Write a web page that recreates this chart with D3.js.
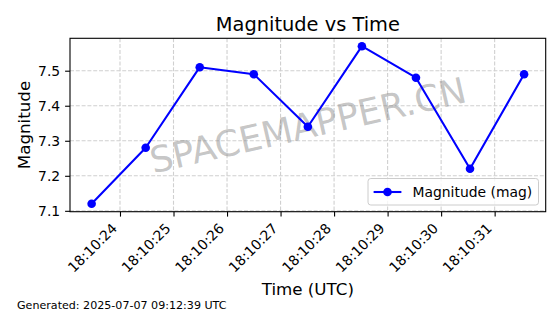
<!DOCTYPE html>
<html>
<head>
<meta charset="utf-8">
<script src="https://cdn.jsdelivr.net/npm/d3@7"></script>
<style>
  body { margin: 0; background: #fff; }
  svg { display: block; font-family: "DejaVu Sans", sans-serif; }
</style>
</head>
<body>
<svg id="chart" width="560" height="314"></svg>
<script>
// data
var times = ["18:10:23.470", "18:10:24.480", "18:10:25.490", "18:10:26.500", "18:10:27.510",
             "18:10:28.520", "18:10:29.530", "18:10:30.540", "18:10:31.550"];
var magnitudes = [7.12, 7.28, 7.51, 7.49, 7.34, 7.57, 7.48, 7.22, 7.49];
var xTickLabels = ["18:10:24", "18:10:25", "18:10:26", "18:10:27", "18:10:28", "18:10:29", "18:10:30", "18:10:31"];
var yTickLabels = [7.1, 7.2, 7.3, 7.4, 7.5];

var parseT = d3.utcParse("%Y-%m-%d %H:%M:%S.%L"),
    parseTick = d3.utcParse("%Y-%m-%d %H:%M:%S"),
    day = "2025-07-07 ";

var ds = times.map((t, i) => ({ t: parseT(day + t), m: magnitudes[i] }));

let svg = d3.select("#chart"),
    cs = {
        left: 70, right: 545.7, top: 38.3, bottom: 211.7,
        blue: "#0000ff",
        tickLen: 4.9
    };

// matplotlib-ish 5% margins
let tExt = d3.extent(ds, d => +d.t), mExt = d3.extent(ds, d => d.m);
let tPad = (tExt[1] - tExt[0]) * 0.05, mPad = (mExt[1] - mExt[0]) * 0.05;

cs.x = d3.scaleUtc()
    .domain([new Date(tExt[0] - tPad), new Date(tExt[1] + tPad)])
    .range([cs.left, cs.right]);
cs.y = d3.scaleLinear()
    .domain([mExt[0] - mPad, mExt[1] + mPad])
    .range([cs.bottom, cs.top]);

let xTicks = xTickLabels.map(s => parseTick(day + s));

// grid
let grid = svg.append("g").attr("stroke", "#d0d0d0").attr("stroke-width", 1.1).attr("stroke-dasharray", "4,1.8");
grid.selectAll(".gx").data(xTicks).enter().append("line")
    .attr("x1", d => cs.x(d)).attr("x2", d => cs.x(d))
    .attr("y1", cs.top).attr("y2", cs.bottom);
grid.selectAll(".gy").data(yTickLabels).enter().append("line")
    .attr("y1", d => cs.y(d)).attr("y2", d => cs.y(d))
    .attr("x1", cs.left).attr("x2", cs.right);

// watermark
svg.append("text")
    .attr("transform", "translate(" + ((cs.left + cs.right) / 2) + "," + ((cs.top + cs.bottom) / 2) + ") rotate(-12.8)")
    .attr("text-anchor", "middle")
    .attr("dy", "0.36em")
    .attr("font-size", 36)
    .attr("fill", "#808080")
    .attr("fill-opacity", 0.45)
    .text("SPACEMAPPER.CN");

// line + markers
let line = d3.line().x(d => cs.x(d.t)).y(d => cs.y(d.m));
svg.append("path").datum(ds)
    .attr("d", line)
    .attr("fill", "none")
    .attr("stroke", cs.blue)
    .attr("stroke-width", 2.08)
    .attr("stroke-linejoin", "round");
svg.selectAll("circle.pt").data(ds).enter().append("circle")
    .attr("class", "pt")
    .attr("cx", d => cs.x(d.t)).attr("cy", d => cs.y(d.m))
    .attr("r", 4.3)
    .attr("fill", cs.blue);

// axes
let xAxis = d3.axisBottom(cs.x).tickValues(xTicks).tickFormat(d3.utcFormat("%H:%M:%S"))
    .tickSize(cs.tickLen).tickSizeOuter(0);
let gx = svg.append("g").attr("transform", "translate(0," + cs.bottom + ")").call(xAxis);
gx.selectAll("text")
    .attr("x", 0).attr("y", 0).attr("dy", 0)
    .attr("text-anchor", "end")
    .attr("transform", "translate(-2.5,17.5) rotate(-45)");

let yAxis = d3.axisLeft(cs.y).tickValues(yTickLabels).tickFormat(d3.format(".1f"))
    .tickSize(cs.tickLen).tickPadding(4.9).tickSizeOuter(0);
let gy = svg.append("g").attr("transform", "translate(" + cs.left + ",0)").call(yAxis);

[gx, gy].forEach(g => {
    g.select(".domain").remove();
    g.attr("font-family", null).attr("font-size", 13.9);
    g.selectAll(".tick line").attr("stroke", "#000").attr("stroke-width", 1.1);
    g.selectAll(".tick text").attr("fill", "#000");
});

// frame
svg.append("rect")
    .attr("x", cs.left).attr("y", cs.top)
    .attr("width", cs.right - cs.left).attr("height", cs.bottom - cs.top)
    .attr("fill", "none").attr("stroke", "#000").attr("stroke-width", 1.1);

// legend
let lg = svg.append("g");
lg.append("rect")
    .attr("x", 368).attr("y", 178.5).attr("width", 170.5).attr("height", 26.5)
    .attr("rx", 2.8)
    .attr("fill", "#fff").attr("fill-opacity", 0.8)
    .attr("stroke", "#cccccc").attr("stroke-width", 1);
lg.append("line")
    .attr("x1", 373.6).attr("x2", 401.4).attr("y1", 192).attr("y2", 192)
    .attr("stroke", cs.blue).attr("stroke-width", 2.08);
lg.append("circle").attr("cx", 387.5).attr("cy", 192).attr("r", 4.3).attr("fill", cs.blue);
lg.append("text").attr("x", 412.5).attr("y", 197).attr("font-size", 13.9).attr("fill", "#000")
    .text("Magnitude (mag)");

// titles
svg.append("text").attr("x", (cs.left + cs.right) / 2).attr("y", 30.5)
    .attr("text-anchor", "middle").attr("font-size", 19.4).text("Magnitude vs Time");
svg.append("text").attr("x", (cs.left + cs.right) / 2).attr("y", 295)
    .attr("text-anchor", "middle").attr("font-size", 16.7).text("Time (UTC)");
svg.append("text").attr("transform", "translate(29.5," + ((cs.top + cs.bottom) / 2) + ") rotate(-90)")
    .attr("text-anchor", "middle").attr("font-size", 16.7).text("Magnitude");

svg.append("text").attr("x", 17).attr("y", 308.5).attr("font-size", 11.1)
    .text("Generated: 2025-07-07 09:12:39 UTC");
</script>
</body>
</html>
